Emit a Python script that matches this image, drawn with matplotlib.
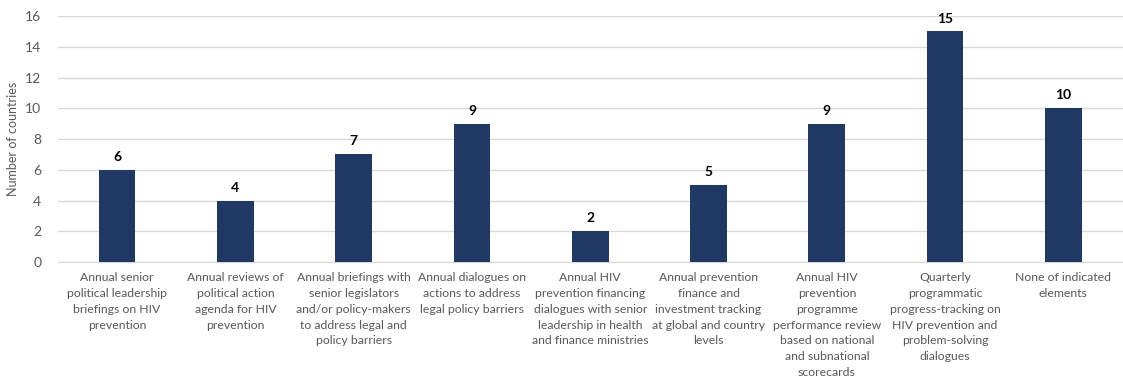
import matplotlib
matplotlib.use("Agg")
import matplotlib.pyplot as plt

categories = [
    "Annual senior\npolitical leadership\nbriefings on HIV\nprevention",
    "Annual reviews of\npolitical action\nagenda for HIV\nprevention",
    "Annual briefings with\nsenior legislators\nand/or policy-makers\nto address legal and\npolicy barriers",
    "Annual dialogues on\nactions to address\nlegal policy barriers",
    "Annual HIV\nprevention financing\ndialogues with senior\nleadership in health\nand finance ministries",
    "Annual prevention\nfinance and\ninvestment tracking\nat global and country\nlevels",
    "Annual HIV\nprevention\nprogramme\nperformance review\nbased on national\nand subnational\nscorecards",
    "Quarterly\nprogrammatic\nprogress-tracking on\nHIV prevention and\nproblem-solving\ndialogues",
    "None of indicated\nelements",
]
countries = [6, 4, 7, 9, 2, 5, 9, 15, 10]
y_ticks = [0, 2, 4, 6, 8, 10, 12, 14, 16]

plt.rcParams['font.family'] = ['Lato', 'DejaVu Sans']

fig = plt.figure(figsize=(11.23, 3.83), dpi=100)
ax = fig.add_axes([0.0516, 0.316, 0.948, 0.642])

x = list(range(len(countries)))
bars = ax.bar(x, countries, width=0.31, color="#203864", zorder=3)
for rect, v in zip(bars, countries):
    ax.text(rect.get_x() + rect.get_width() / 2, v + 0.45, str(v),
            ha="center", va="bottom", fontsize=10, fontweight="bold", color="black")

ax.set_xlim(-0.5, len(countries) - 0.5)
ax.set_ylim(0, 16)
ax.set_yticks(y_ticks)
ax.yaxis.grid(True, color="#D9D9D9", linewidth=1, zorder=0)
ax.set_axisbelow(True)
for s in ["top", "right", "left"]:
    ax.spines[s].set_visible(False)
ax.spines["bottom"].set_color("#D9D9D9")
ax.tick_params(axis="y", length=0, labelsize=10, colors="#595959", pad=12)
ax.tick_params(axis="x", length=0, colors="#595959", pad=7)
ax.set_xticks(x)
ax.set_xticklabels(categories, fontsize=8.8, color="#595959", linespacing=1.55, va="top")
ax.set_ylabel("Number of countries", fontsize=9, color="#595959", labelpad=4)

fig.savefig("out.png", dpi=100)
